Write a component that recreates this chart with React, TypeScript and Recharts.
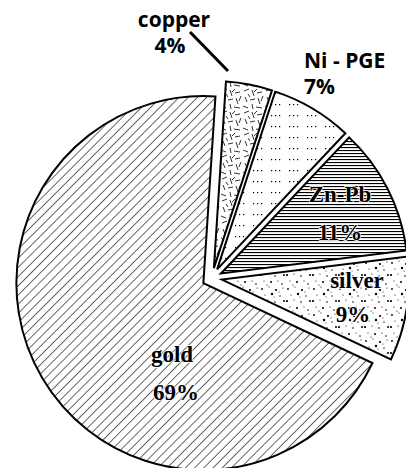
import { PieChart, Pie, Cell, Sector } from 'recharts';

const categories = ['silver', 'Zn-Pb', 'Ni - PGE', 'copper', 'gold'];
const shares = [9, 11, 7, 4, 69];
const percentLabels = ['9%', '11%', '7%', '4%', '69%'];
const patternIds = ['stipple', 'lines', 'dots', 'chips', 'hatch'];

const data = categories.map((name, i) => ({ name, value: shares[i] }));

const EXPLODE = 10;
const OUTER_FONT = '"Open Sans", sans-serif';
const INNER_FONT = '"Liberation Serif", serif';

// where each label sits (name line, percent line)
const labelLayout = [
  { x: 357, y: 288, x2: 353, y2: 322, anchor: 'middle', inner: true },
  { x: 340, y: 202, x2: 340, y2: 240, anchor: 'middle', inner: true },
  { x: 304, y: 68, x2: 304, y2: 94, anchor: 'start', inner: false },
  { x: 174, y: 27, x2: 170, y2: 53, anchor: 'middle', inner: false },
  { x: 172, y: 362, x2: 176, y2: 400, anchor: 'middle', inner: true },
];

// hand-placed marks for the stipple / chip textures
const stippleDots = [
  [2, 3, 0.9], [9, 1, 0.6], [16, 4, 1.1], [23, 2, 0.6], [5, 9, 0.6], [12, 8, 1.2],
  [20, 10, 0.7], [1, 15, 1.1], [8, 14, 0.6], [15, 16, 0.8], [24, 15, 1.0], [4, 21, 0.6],
  [11, 22, 1.0], [18, 21, 0.6], [22, 24, 0.8], [7, 25, 0.6], [14, 11, 0.5], [19, 6, 0.5],
];
const chipLines = [
  [2, 3, 7, 1], [10, 2, 12, 8], [15, 5, 20, 4], [3, 9, 5, 14], [8, 12, 13, 11],
  [16, 10, 18, 16], [1, 18, 6, 20], [10, 16, 11, 21], [14, 19, 20, 20], [19, 13, 21, 8],
  [6, 6, 8, 9], [12, 4, 15, 1],
];

function ExplodedSector(props: any) {
  const { cx, cy, midAngle, innerRadius, outerRadius, startAngle, endAngle, fill } = props;
  const rad = (Math.PI / 180) * midAngle;
  return (
    <Sector
      cx={cx + EXPLODE * Math.cos(rad)}
      cy={cy - EXPLODE * Math.sin(rad)}
      innerRadius={innerRadius}
      outerRadius={outerRadius}
      startAngle={startAngle}
      endAngle={endAngle}
      fill={fill}
      stroke="#000"
      strokeWidth={2}
    />
  );
}

function renderLabel(props: any) {
  const { index } = props;
  const pos = labelLayout[index];
  const style = pos.inner
    ? { fontFamily: INNER_FONT, fontSize: 23, paintOrder: 'stroke' as const }
    : { fontFamily: OUTER_FONT, fontSize: 21 };
  const halo = pos.inner ? { stroke: '#fff', strokeWidth: 1.5 } : { stroke: 'none' };
  return (
    <g key={`lbl-${index}`}>
      {categories[index] === 'copper' && (
        <line x1={190} y1={32} x2={228} y2={71} stroke="#000" strokeWidth={3} />
      )}
      <text x={pos.x} y={pos.y} textAnchor={pos.anchor} fontWeight="bold" fill="#000" {...halo} style={style}>
        {categories[index]}
      </text>
      <text x={pos.x2} y={pos.y2} textAnchor={pos.anchor} fontWeight="bold" fill="#000" {...halo} style={style}>
        {percentLabels[index]}
      </text>
    </g>
  );
}

export default function App() {
  return (
    <div style={{ position: 'absolute', left: 0, top: 0, background: '#fff' }}>
      <PieChart width={406} height={468}>
        <defs>
          <pattern id="hatch" width="6.5" height="6.5" patternUnits="userSpaceOnUse" patternTransform="rotate(45)">
            <rect width="6.5" height="6.5" fill="#fff" />
            <line x1="0" y1="0" x2="0" y2="6.5" stroke="#000" strokeWidth="1.2" />
          </pattern>
          <pattern id="lines" width="4" height="3" patternUnits="userSpaceOnUse">
            <rect width="4" height="3" fill="#fff" />
            <rect y="0" width="4" height="1.1" fill="#000" />
          </pattern>
          <pattern id="dots" width="18" height="11" patternUnits="userSpaceOnUse">
            <rect width="18" height="11" fill="#fff" />
            <rect x="1" y="5" width="1.2" height="1.2" fill="#000" />
            <rect x="5" y="5" width="1.2" height="1.2" fill="#000" />
            <rect x="9" y="5" width="1.2" height="1.2" fill="#000" />
          </pattern>
          <pattern id="stipple" width="26" height="26" patternUnits="userSpaceOnUse">
            <rect width="26" height="26" fill="#fff" />
            {stippleDots.map(([x, y, r], i) => (
              <circle key={i} cx={x} cy={y} r={r} fill="#000" />
            ))}
          </pattern>
          <pattern id="chips" width="22" height="22" patternUnits="userSpaceOnUse">
            <rect width="22" height="22" fill="#fff" />
            {chipLines.map(([x1, y1, x2, y2], i) => (
              <line key={i} x1={x1} y1={y1} x2={x2} y2={y2} stroke="#000" strokeWidth="0.8" />
            ))}
          </pattern>
        </defs>
        <Pie
          data={data}
          dataKey="value"
          nameKey="name"
          cx={207}
          cy={273}
          outerRadius={187}
          startAngle={-25.3}
          endAngle={334.7}
          shape={ExplodedSector}
          label={renderLabel}
          labelLine={false}
          isAnimationActive={false}
        >
          {data.map((_, i) => (
            <Cell key={`cell-${i}`} fill={`url(#${patternIds[i]})`} />
          ))}
        </Pie>
      </PieChart>
    </div>
  );
}
